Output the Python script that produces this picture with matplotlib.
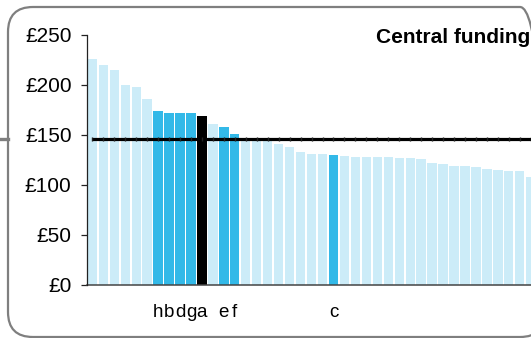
import matplotlib
matplotlib.use("Agg")
import matplotlib.pyplot as plt
from matplotlib.patches import FancyBboxPatch
from matplotlib.lines import Line2D

plt.rcParams["font.family"] = ["Liberation Sans", "DejaVu Sans"]

# funding per head, sorted, one bar per authority
values = [226, 220, 215, 200, 198, 186, 174, 172, 172, 172, 169, 161, 158, 151,
          146, 145, 144, 141, 138, 133, 131, 131, 130, 129, 128, 128, 128, 128,
          127, 127, 126, 122, 121, 119, 119, 118, 116, 115, 114, 114, 108]
labels = ["", "", "", "", "", "", "h", "b", "d", "g", "a", "", "e", "f",
          "", "", "", "", "", "", "", "", "c", "", "", "", "", "", "",
          "", "", "", "", "", "", "", "", "", "", "", ""]
# 0 = other, 1 = comparator, 2 = selected
groups = [0, 0, 0, 0, 0, 0, 1, 1, 1, 1, 2, 0, 1, 1,
          0, 0, 0, 0, 0, 0, 0, 0, 1, 0, 0, 0, 0, 0,
          0, 0, 0, 0, 0, 0, 0, 0, 0, 0, 0, 0, 0]
average = 146.5
yticks = [0, 50, 100, 150, 200, 250]
title = "Central funding"

group_colors = {0: "#CCECF8", 1: "#33B9E8", 2: "#000000"}

W, H = 531, 338
fig = plt.figure(figsize=(W / 100, H / 100), dpi=100)

# rounded panel border
box = FancyBboxPatch((8 / 100, 1 / 100), 5.45 - 8 / 100, 3.31 - 1 / 100,
                     boxstyle="round,pad=0,rounding_size=0.25",
                     transform=fig.dpi_scale_trans, fill=False,
                     edgecolor="#7F7F7F", linewidth=1.6, clip_on=False)
fig.patches.append(box)
fig.lines.append(Line2D([0, 8 / 100], [1.99, 1.99], transform=fig.dpi_scale_trans,
                        color="#7F7F7F", linewidth=2.4))

ax_left = 87.3
ax = fig.add_axes([ax_left / W, 53 / H, (W - ax_left) / W, 250 / H])

pitch = 10.96
x = list(range(len(values)))
colors = [group_colors[g] for g in groups]
ax.bar(x, values, width=0.85, color=colors, linewidth=0, zorder=2)

ax.plot([0, len(values)], [average, average], color="#000000", linewidth=2.3,
        solid_capstyle="butt", zorder=3)
ax.plot(x, [average] * len(x), linestyle="none", marker="|", markersize=3,
        markeredgewidth=1, color="#222222", zorder=4)

x0 = -0.46
ax.set_xlim(x0, x0 + (W - ax_left) / pitch)
ax.set_ylim(0, 250)

ax.set_yticks(yticks)
ax.set_yticklabels([f"£{v}" for v in yticks], fontsize=15)
ax.tick_params(axis="y", length=4.3, width=0.9, pad=7, color="#222222")

ax.set_xticks(x)
ax.set_xticklabels(labels, fontsize=13.5)
ax.tick_params(axis="x", length=0, pad=14)

for s in ["top", "right"]:
    ax.spines[s].set_visible(False)
ax.spines["left"].set_color("#222222")
ax.spines["left"].set_linewidth(0.9)
ax.spines["bottom"].set_color("#444444")
ax.spines["bottom"].set_linewidth(1.1)
ax.spines["left"].set_zorder(5)

fig.text(530 / W, (H - 43) / H, title, fontsize=15, fontweight="bold",
         ha="right", va="baseline")

fig.savefig("out.png", dpi=100)
